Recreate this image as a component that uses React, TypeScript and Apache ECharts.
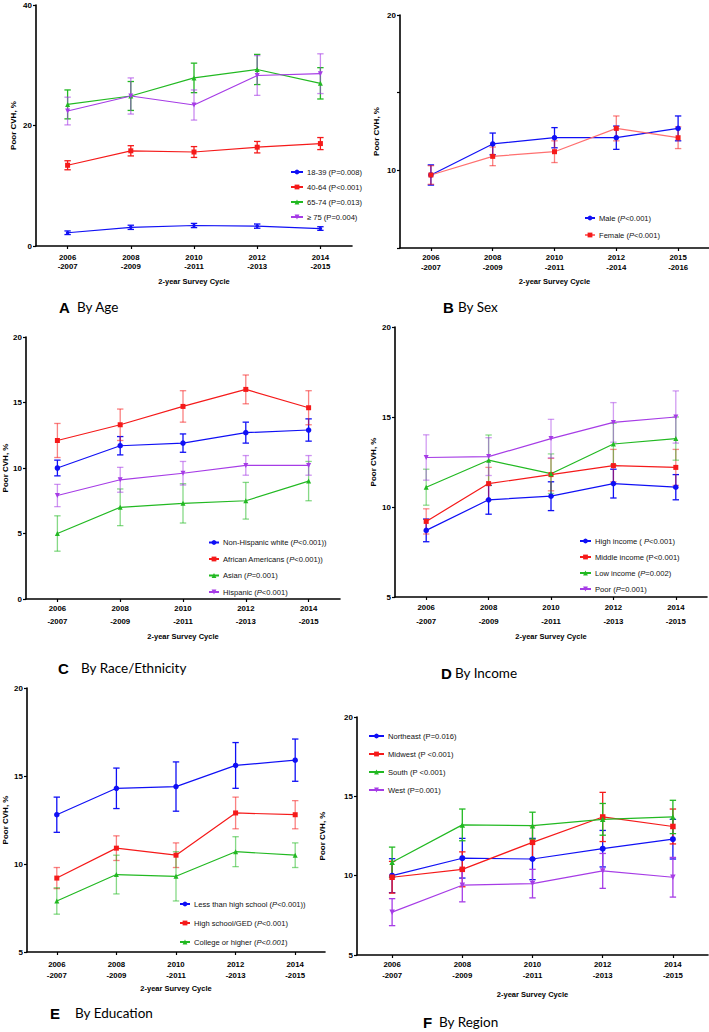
import React, { useEffect, useRef } from "react";
import * as echarts from "echarts";

// ---------- data ----------
const cycles = ["2006\n-2007", "2008\n-2009", "2010\n-2011", "2012\n-2013", "2014\n-2015"];
const cyclesSex = ["2006\n-2007", "2008\n-2009", "2010\n-2011", "2012\n-2014", "2015\n-2016"];

// A: By Age
const age1839 = [2.2, 3.1, 3.4, 3.3, 2.9];
const age1839Err = [0.3, 0.35, 0.35, 0.35, 0.3];
const age4064 = [13.4, 15.8, 15.6, 16.4, 17.0];
const age4064Err = [0.75, 0.85, 0.9, 0.95, 1.0];
const age6574 = [23.5, 24.9, 27.9, 29.3, 27.0];
const age6574Err = [2.4, 2.4, 2.45, 2.5, 2.6];
const age75 = [22.4, 24.9, 23.4, 28.3, 28.6];
const age75Err = [2.3, 3.0, 2.5, 3.3, 3.3];

// B: By Sex
const male = [9.7, 11.7, 12.1, 12.1, 12.7];
const maleErr = [0.65, 0.7, 0.65, 0.75, 0.8];
const female = [9.7, 10.9, 11.2, 12.7, 12.1];
const femaleErr = [0.6, 0.6, 0.7, 0.8, 0.7];

// C: By Race/Ethnicity
const white = [10.0, 11.7, 11.9, 12.7, 12.9];
const whiteErr = [0.6, 0.7, 0.7, 0.8, 0.85];
const black = [12.1, 13.3, 14.7, 16.0, 14.6];
const blackErr = [1.3, 1.2, 1.2, 1.1, 1.3];
const asian = [5.0, 7.0, 7.3, 7.5, 9.0];
const asianErr = [1.35, 1.4, 1.5, 1.4, 1.5];
const hispanic = [7.9, 9.1, 9.6, 10.2, 10.2];
const hispanicErr = [0.85, 0.95, 0.9, 0.75, 0.75];

// D: By Income
const highInc = [8.7, 10.4, 10.6, 11.3, 11.1];
const highIncErr = [0.63, 0.8, 0.8, 0.8, 0.7];
const middleInc = [9.2, 11.3, 11.8, 12.3, 12.2];
const middleIncErr = [0.7, 0.9, 0.9, 0.9, 1.0];
const lowInc = [11.1, 12.6, 11.85, 13.5, 13.8];
const lowIncErr = [1.0, 1.4, 1.1, 1.15, 1.2];
const poorInc = [12.75, 12.8, 13.8, 14.7, 15.0];
const poorIncErr = [1.26, 1.05, 1.07, 1.1, 1.45];

// E: By Education
const lessHS = [12.8, 14.3, 14.4, 15.6, 15.9];
const lessHSErr = [1.0, 1.15, 1.4, 1.3, 1.2];
const hsGed = [9.2, 10.9, 10.5, 12.9, 12.8];
const hsGedErr = [0.6, 0.7, 0.7, 0.9, 0.8];
const college = [7.9, 9.4, 9.3, 10.7, 10.5];
const collegeErr = [0.75, 1.1, 1.4, 0.85, 0.7];

// F: By Region
const northeast = [10.0, 11.1, 11.05, 11.7, 12.3];
const northeastErr = [1.07, 1.25, 1.3, 1.15, 1.25];
const midwest = [9.9, 10.4, 12.1, 13.7, 13.1];
const midwestErr = [1.0, 1.1, 1.05, 1.55, 1.1];
const south = [10.85, 13.2, 13.15, 13.55, 13.7];
const southErr = [0.95, 1.0, 0.85, 1.0, 1.05];
const west = [7.7, 9.4, 9.5, 10.3, 9.9];
const westErr = [0.85, 1.05, 0.9, 1.1, 1.25];

// ---------- style ----------
const BLUE = "#1010f5";
const RED = "#f51a1a";
const GREEN = "#22b922";
const PURPLE = "#a63ce6";
const FONT = '"Liberation Sans Narrow", "Liberation Sans", Arial, sans-serif';

const SYM = {
  circle: { symbol: "circle", rotate: 0 },
  square: { symbol: "rect", rotate: 0 },
  tri: { symbol: "triangle", rotate: 0 },
  down: { symbol: "triangle", rotate: 180 },
};

type Grp = {
  name: string;
  label: string;
  vals: number[];
  errs: number[];
  color: string;
  sym: keyof typeof SYM;
  size: number;
  errOpacity: number;
  lineColor?: string;
};

function lineSeries(g: Grp, idx: number) {
  const s = SYM[g.sym];
  return {
    type: "line",
    name: g.name,
    xAxisIndex: idx,
    yAxisIndex: idx,
    data: g.vals,
    symbol: s.symbol,
    symbolRotate: s.rotate,
    symbolSize: g.size,
    showAllSymbol: true,
    color: g.color,
    itemStyle: { color: g.color },
    lineStyle: { color: g.lineColor || g.color, width: 1.2 },
    z: 3,
  };
}

function errSeries(g: Grp, idx: number) {
  return {
    type: "custom",
    name: g.name + " err",
    xAxisIndex: idx,
    yAxisIndex: idx,
    silent: true,
    z: 2,
    encode: { x: 0, y: [1, 2] },
    data: g.vals.map((v, i) => [i, v - g.errs[i], v + g.errs[i]]),
    renderItem: (params: any, api: any) => {
      const x = api.value(0);
      const top = api.coord([x, api.value(2)]);
      const bot = api.coord([x, api.value(1)]);
      const w = 3.2;
      const st = { stroke: g.color, lineWidth: 1.3, opacity: g.errOpacity };
      return {
        type: "group",
        children: [
          { type: "line", shape: { x1: top[0], y1: top[1], x2: bot[0], y2: bot[1] }, style: st },
          { type: "line", shape: { x1: top[0] - w, y1: top[1], x2: top[0] + w, y2: top[1] }, style: st },
          { type: "line", shape: { x1: bot[0] - w, y1: bot[1], x2: bot[0] + w, y2: bot[1] }, style: st },
        ],
      };
    },
  };
}

type Panel = {
  grid: { left: number; top: number; width: number; height: number };
  cats: string[];
  yMin: number;
  yMax: number;
  yInt: number;
  hide?: number[];
  labelMargin: number;
  lineH: number;
  xNameGap: number;
  yNameGap: number;
  groups: Grp[];
  legend: { left: number; top: number; gap: number; iconW: number };
};

const panels: Panel[] = [
  {
    grid: { left: 36, top: 5, width: 316, height: 241 },
    cats: cycles, yMin: 0, yMax: 40, yInt: 20, labelMargin: 7, lineH: 9, xNameGap: 31, yNameGap: 19,
    legend: { left: 290, top: 168, gap: 7, iconW: 12 },
    groups: [
      { name: "18-39 (P=0.008)", label: "18-39 (P=0.008)", vals: age1839, errs: age1839Err, color: BLUE, sym: "circle", size: 3.5, errOpacity: 1 },
      { name: "40-64 (P<0.001)", label: "40-64 (P<0.001)", vals: age4064, errs: age4064Err, color: RED, sym: "square", size: 5, errOpacity: 1 },
      { name: "65-74 (P=0.013)", label: "65-74 (P=0.013)", vals: age6574, errs: age6574Err, color: GREEN, sym: "tri", size: 5, errOpacity: 1 },
      { name: "≥ 75 (P=0.004)", label: "≥ 75 (P=0.004)", vals: age75, errs: age75Err, color: PURPLE, sym: "down", size: 5, errOpacity: 0.6 },
    ],
  },
  {
    grid: { left: 400, top: 15, width: 310, height: 233 },
    cats: cyclesSex, yMin: 5, yMax: 20, yInt: 5, hide: [5, 15], labelMargin: 5, lineH: 9.4, xNameGap: 29, yNameGap: 20,
    legend: { left: 584, top: 214, gap: 9, iconW: 10 },
    groups: [
      { name: "Male (P<0.001)", label: "Male ({i|P}<0.001)", vals: male, errs: maleErr, color: BLUE, sym: "circle", size: 5.5, errOpacity: 1 },
      { name: "Female (P<0.001)", label: "Female ({i|P}<0.001)", vals: female, errs: femaleErr, color: RED, sym: "square", size: 5, errOpacity: 0.55, lineColor: "#ff7070" },
    ],
  },
  {
    grid: { left: 25, top: 337, width: 315, height: 262 },
    cats: cycles, yMin: 0, yMax: 20, yInt: 5, labelMargin: 3, lineH: 13, xNameGap: 33, yNameGap: 17,
    legend: { left: 208, top: 538.5, gap: 8.5, iconW: 10 },
    groups: [
      { name: "Non-Hispanic white (P<0.001))", label: "Non-Hispanic white ({i|P}<0.001))", vals: white, errs: whiteErr, color: BLUE, sym: "circle", size: 5.5, errOpacity: 1 },
      { name: "African Americans (P<0.001))", label: "African Americans ({i|P}<0.001))", vals: black, errs: blackErr, color: RED, sym: "square", size: 5, errOpacity: 0.55 },
      { name: "Asian (P=0.001)", label: "Asian ({i|P}=0.001)", vals: asian, errs: asianErr, color: GREEN, sym: "tri", size: 5, errOpacity: 0.55 },
      { name: "Hispanic (P<0.001)", label: "Hispanic ({i|P}<0.001)", vals: hispanic, errs: hispanicErr, color: PURPLE, sym: "down", size: 5, errOpacity: 0.55 },
    ],
  },
  {
    grid: { left: 395, top: 327, width: 312, height: 270 },
    cats: cycles, yMin: 5, yMax: 20, yInt: 5, labelMargin: 4, lineH: 13.4, xNameGap: 35, yNameGap: 18,
    legend: { left: 579, top: 537, gap: 8, iconW: 11 },
    groups: [
      { name: "High income ( P<0.001)", label: "High income ( {i|P}<0.001)", vals: highInc, errs: highIncErr, color: BLUE, sym: "circle", size: 5.5, errOpacity: 1 },
      { name: "Middle income (P<0.001)", label: "Middle income (P<0.001)", vals: middleInc, errs: middleIncErr, color: RED, sym: "square", size: 5, errOpacity: 0.5 },
      { name: "Low income (P=0.002)", label: "Low income ({i|P}=0.002)", vals: lowInc, errs: lowIncErr, color: GREEN, sym: "tri", size: 5, errOpacity: 0.5 },
      { name: "Poor (P=0.001)", label: "Poor ({i|P}=0.001)", vals: poorInc, errs: poorIncErr, color: PURPLE, sym: "down", size: 5, errOpacity: 0.5 },
    ],
  },
  {
    grid: { left: 27, top: 688, width: 298, height: 264 },
    cats: cycles, yMin: 5, yMax: 20, yInt: 5, labelMargin: 6.5, lineH: 11, xNameGap: 32, yNameGap: 18,
    legend: { left: 179, top: 900, gap: 11, iconW: 10 },
    groups: [
      { name: "Less than high school (P<0.001))", label: "Less than high school ({i|P}<0.001))", vals: lessHS, errs: lessHSErr, color: BLUE, sym: "circle", size: 5.5, errOpacity: 1 },
      { name: "High school/GED (P<0.001)", label: "High school/GED ({i|P}<0.001)", vals: hsGed, errs: hsGedErr, color: RED, sym: "square", size: 5, errOpacity: 0.55 },
      { name: "College or higher (P<0.001)", label: "College or higher ({i|P<0.001})", vals: college, errs: collegeErr, color: GREEN, sym: "tri", size: 5, errOpacity: 0.55 },
    ],
  },
  {
    grid: { left: 357, top: 717, width: 351, height: 238 },
    cats: cycles, yMin: 5, yMax: 20, yInt: 5, labelMargin: 4.5, lineH: 10.7, xNameGap: 35, yNameGap: 31,
    legend: { left: 368, top: 732, gap: 10, iconW: 15 },
    groups: [
      { name: "Northeast (P=0.016)", label: "Northeast (P=0.016)", vals: northeast, errs: northeastErr, color: BLUE, sym: "circle", size: 6, errOpacity: 1 },
      { name: "Midwest (P <0.001)", label: "Midwest (P <0.001)", vals: midwest, errs: midwestErr, color: RED, sym: "square", size: 5.5, errOpacity: 1 },
      { name: "South (P <0.001)", label: "South (P <0.001)", vals: south, errs: southErr, color: GREEN, sym: "tri", size: 5.5, errOpacity: 1 },
      { name: "West (P=0.001)", label: "West (P=0.001)", vals: west, errs: westErr, color: PURPLE, sym: "down", size: 5.5, errOpacity: 1 },
    ],
  },
];

const titles = [
  { letter: "A", text: "By Age", lx: 59, tx: 77, y: 307 },
  { letter: "B", text: "By Sex", lx: 443, tx: 458, y: 307 },
  { letter: "C", text: "By Race/Ethnicity", lx: 58, tx: 81, y: 668 },
  { letter: "D", text: "By Income", lx: 441, tx: 455, y: 673 },
  { letter: "E", text: "By Education", lx: 50, tx: 75, y: 1013 },
  { letter: "F", text: "By Region", lx: 423, tx: 439, y: 1022 },
];

function buildOption() {
  const labelMap: Record<string, string> = {};
  panels.forEach((p) => p.groups.forEach((g) => (labelMap[g.name] = g.label)));
  const axisLine = { show: true, lineStyle: { color: "#000", width: 1.6 } };
  const axisTick = { show: true, length: 3, lineStyle: { color: "#000", width: 1.2 } };

  return {
    animation: false,
    backgroundColor: "#fff",
    grid: panels.map((p) => ({ ...p.grid, containLabel: false })),
    xAxis: panels.map((p, i) => ({
      type: "category",
      gridIndex: i,
      data: p.cats,
      boundaryGap: true,
      axisLine,
      axisTick: { ...axisTick, alignWithLabel: true },
      axisLabel: {
        interval: 0,
        margin: p.labelMargin,
        color: "#000",
        fontFamily: FONT,
        fontWeight: "bold",
        fontSize: 7.8,
        lineHeight: p.lineH,
      },
      name: "2-year Survey Cycle",
      nameLocation: "middle",
      nameGap: p.xNameGap,
      nameTextStyle: { color: "#000", fontFamily: FONT, fontWeight: "bold", fontSize: 7.5 },
      splitLine: { show: false },
    })),
    yAxis: panels.map((p, i) => ({
      type: "value",
      gridIndex: i,
      min: p.yMin,
      max: p.yMax,
      interval: p.yInt,
      axisLine,
      axisTick,
      splitLine: { show: false },
      axisLabel: {
        margin: 4,
        color: "#000",
        fontFamily: FONT,
        fontWeight: "bold",
        fontSize: 8,
        formatter: (v: number) => (p.hide && p.hide.includes(v) ? "" : String(v)),
      },
      name: "Poor CVH, %",
      nameLocation: "middle",
      nameRotate: 90,
      nameGap: p.yNameGap,
      nameTextStyle: { color: "#000", fontFamily: FONT, fontWeight: "bold", fontSize: 8 },
    })),
    legend: panels.map((p) => ({
      data: p.groups.map((g) => g.name),
      orient: "vertical",
      left: p.legend.left,
      top: p.legend.top,
      padding: 0,
      itemGap: p.legend.gap,
      itemWidth: p.legend.iconW,
      itemHeight: 6,
      selectedMode: false,
      formatter: (name: string) => labelMap[name] || name,
      textStyle: {
        color: "#111",
        fontFamily: FONT,
        fontSize: 7.6,
        padding: [0, 0, 0, -1],
        rich: { i: { fontStyle: "italic", fontFamily: FONT, fontSize: 7.6, color: "#111" } },
      },
    })),
    series: panels.flatMap((p, i) => [
      ...p.groups.map((g) => errSeries(g, i)),
      ...p.groups.map((g) => lineSeries(g, i)),
    ]),
    graphic: titles.flatMap((t) => [
      {
        type: "text",
        x: t.lx,
        y: t.y,
        style: { text: t.letter, fontFamily: '"Liberation Sans", Arial, sans-serif', fontWeight: "bold", fontSize: 15, fill: "#000", verticalAlign: "middle" },
      },
      {
        type: "text",
        x: t.tx,
        y: t.y,
        style: { text: t.text, fontFamily: "Lato, sans-serif", fontSize: 13.5, fill: "#000", verticalAlign: "middle" },
      },
    ]),
  };
}

export default function App() {
  const ref = useRef<HTMLDivElement>(null);
  useEffect(() => {
    if (!ref.current) return;
    const chart = echarts.init(ref.current, undefined, { renderer: "svg" });
    chart.setOption(buildOption() as any);
    return () => chart.dispose();
  }, []);
  return (
    <div
      ref={ref}
      style={{ position: "fixed", left: 0, top: 0, width: 709, height: 1032, background: "#fff" }}
    />
  );
}
